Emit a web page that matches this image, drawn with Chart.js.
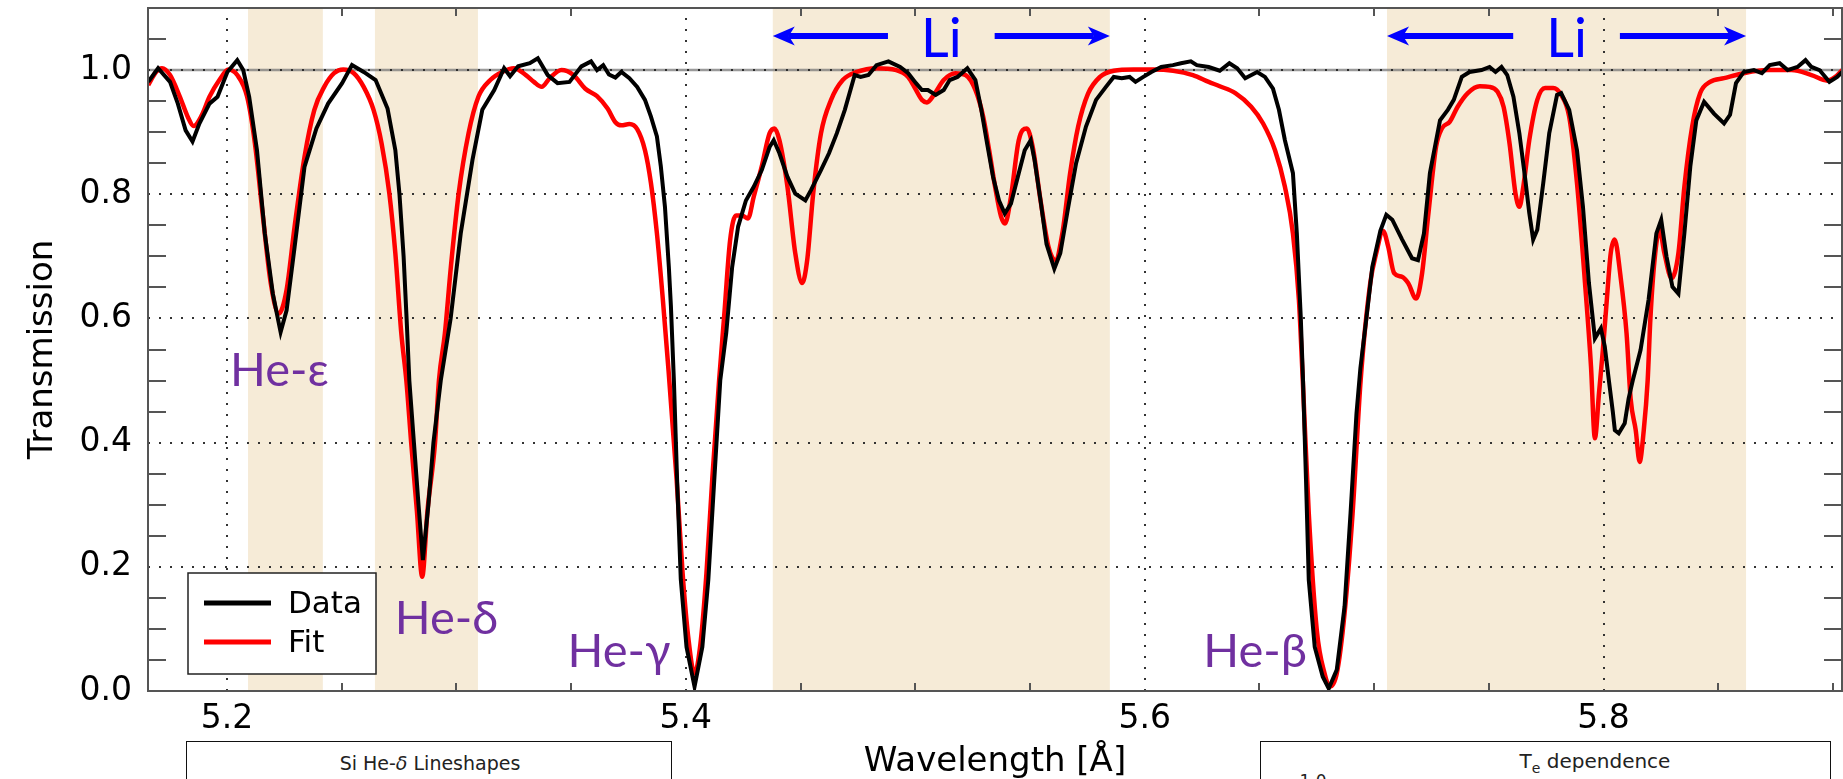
<!DOCTYPE html>
<html>
<head>
<meta charset="utf-8">
<script src="https://cdn.jsdelivr.net/npm/chart.js@4/dist/chart.umd.min.js"></script>
<style>
  html, body { margin: 0; padding: 0; background: #fff; overflow: hidden; width: 1843px; height: 779px; }
  #wrap { position: relative; width: 1843px; height: 779px; }
  #spec { position: absolute; left: 0; top: 0; }
  .panel { position: absolute; top: 741px; height: 60px; box-sizing: border-box; border: 1.5px solid #111; background: #fff;
           font-family: "DejaVu Sans", sans-serif; font-size: 19px; color: #222; }
  .panel span { position: absolute; white-space: nowrap; transform: translateX(-50%); }
</style>
</head>
<body>
<div id="wrap">
  <canvas id="spec" width="1843" height="779"></canvas>
  <div class="panel" style="left:186px;width:486px;">
    <span style="left:243px;top:10px;">Si He-<i>δ</i> Lineshapes</span>
  </div>
  <div class="panel" style="left:1260px;width:571px;">
    <span style="left:334px;top:7px;font-size:20px;">T<sub style="font-size:14px;">e</sub> dependence</span>
    <span style="left:52px;top:29px;font-size:17px;">1.0</span>
  </div>
</div>
<script>
// Measured transmission spectrum (wavelength in Å, transmission)
const dataWavelength = [
  5.1657, 5.1700, 5.1752, 5.1786, 5.1820, 5.1850, 5.1880, 5.1924, 5.1959, 5.2002,
  5.2045, 5.2071, 5.2097, 5.2131, 5.2165, 5.2200, 5.2234, 5.2260, 5.2295, 5.2338,
  5.2390, 5.2441, 5.2502, 5.2545, 5.2596, 5.2648, 5.2700, 5.2734, 5.2752, 5.2770,
  5.2783, 5.2795, 5.2815, 5.2835, 5.2854, 5.2878, 5.2900, 5.2932, 5.2975, 5.3019,
  5.3070, 5.3113, 5.3165, 5.3208, 5.3234, 5.3269, 5.3320, 5.3355, 5.3398, 5.3441,
  5.3493, 5.3545, 5.3587, 5.3613, 5.3640, 5.3665, 5.3693, 5.3719, 5.3754, 5.3788,
  5.3822, 5.3848, 5.3874, 5.3891, 5.3909, 5.3926, 5.3935, 5.3948, 5.3962, 5.3978,
  5.4003, 5.4038, 5.4072, 5.4098, 5.4124, 5.4150, 5.4176, 5.4202, 5.4228, 5.4262,
  5.4296, 5.4331, 5.4365, 5.4383, 5.4408, 5.4443, 5.4477, 5.4521, 5.4546, 5.4589,
  5.4624, 5.4658, 5.4693, 5.4736, 5.4762, 5.4796, 5.4831, 5.4883, 5.4934, 5.4969,
  5.5003, 5.5029, 5.5055, 5.5089, 5.5124, 5.5150, 5.5184, 5.5227, 5.5262, 5.5288,
  5.5313, 5.5339, 5.5365, 5.5390, 5.5417, 5.5451, 5.5477, 5.5503, 5.5520, 5.5546,
  5.5572, 5.5606, 5.5632, 5.5667, 5.5701, 5.5744, 5.5788, 5.5831, 5.5865, 5.5900,
  5.5934, 5.5960, 5.5994, 5.6029, 5.6072, 5.6123, 5.6158, 5.6201, 5.6227, 5.6279,
  5.6327, 5.6369, 5.6403, 5.6438, 5.6490, 5.6524, 5.6559, 5.6585, 5.6611, 5.6646,
  5.6663, 5.6680, 5.6690, 5.6703, 5.6715, 5.6741, 5.6776, 5.6802, 5.6837, 5.6871,
  5.6897, 5.6923, 5.6940, 5.6966, 5.6992, 5.7027, 5.7053, 5.7079, 5.7122, 5.7165,
  5.7191, 5.7217, 5.7243, 5.7287, 5.7321, 5.7347, 5.7382, 5.7416, 5.7468, 5.7503,
  5.7529, 5.7555, 5.7580, 5.7607, 5.7633, 5.7659, 5.7676, 5.7693, 5.7711, 5.7737,
  5.7763, 5.7797, 5.7815, 5.7850, 5.7884, 5.7910, 5.7936, 5.7962, 5.7988, 5.8005,
  5.8023, 5.8040, 5.8049, 5.8066, 5.8092, 5.8109, 5.8127, 5.8161, 5.8196, 5.8230,
  5.8251, 5.8274, 5.8300, 5.8326, 5.8352, 5.8378, 5.8404, 5.8438, 5.8481, 5.8525,
  5.8551, 5.8577, 5.8611, 5.8655, 5.8690, 5.8724, 5.8767, 5.8802, 5.8845, 5.8880,
  5.8906, 5.8941, 5.8984, 5.9018, 5.9040
];
const dataTransmission = [
  0.981, 1.003, 0.981, 0.946, 0.903, 0.885, 0.914, 0.946, 0.957, 0.997,
  1.016, 1.000, 0.957, 0.871, 0.737, 0.640, 0.578, 0.613, 0.715, 0.844,
  0.906, 0.946, 0.979, 1.008, 0.997, 0.984, 0.938, 0.871, 0.800, 0.700,
  0.600, 0.500, 0.400, 0.300, 0.211, 0.300, 0.400, 0.500, 0.600, 0.737,
  0.855, 0.936, 0.968, 1.003, 0.990, 1.006, 1.011, 1.019, 0.992, 0.979,
  0.981, 1.006, 1.014, 1.000, 1.008, 0.993, 0.988, 0.997, 0.987, 0.973,
  0.952, 0.925, 0.893, 0.845, 0.780, 0.683, 0.620, 0.500, 0.340, 0.180,
  0.071, 0.007, 0.071, 0.179, 0.340, 0.500, 0.576, 0.683, 0.748, 0.790,
  0.812, 0.839, 0.876, 0.887, 0.866, 0.828, 0.801, 0.790, 0.807, 0.839,
  0.866, 0.898, 0.936, 0.992, 0.989, 0.992, 1.008, 1.014, 1.005, 0.995,
  0.979, 0.968, 0.968, 0.960, 0.968, 0.984, 0.989, 1.003, 0.984, 0.936,
  0.882, 0.828, 0.790, 0.769, 0.785, 0.834, 0.871, 0.887, 0.855, 0.790,
  0.720, 0.680, 0.705, 0.780, 0.850, 0.909, 0.952, 0.973, 0.989, 0.987,
  0.989, 0.981, 0.989, 0.997, 1.005, 1.008, 1.011, 1.014, 1.008, 1.005,
  0.999, 1.011, 1.003, 0.987, 0.997, 0.989, 0.970, 0.936, 0.887, 0.834,
  0.737, 0.603, 0.500, 0.340, 0.179, 0.071, 0.023, 0.004, 0.034, 0.136,
  0.286, 0.447, 0.520, 0.600, 0.683, 0.741, 0.767, 0.759, 0.727, 0.697,
  0.694, 0.737, 0.834, 0.919, 0.936, 0.952, 0.989, 0.997, 1.000, 1.005,
  0.997, 1.005, 0.992, 0.957, 0.898, 0.823, 0.770, 0.727, 0.743, 0.818,
  0.898, 0.960, 0.963, 0.936, 0.871, 0.780, 0.657, 0.568, 0.584, 0.555,
  0.500, 0.450, 0.420, 0.415, 0.431, 0.471, 0.500, 0.549, 0.630, 0.737,
  0.759, 0.700, 0.651, 0.640, 0.737, 0.845, 0.919, 0.949, 0.930, 0.914,
  0.928, 0.979, 0.997, 1.000, 0.995, 1.008, 1.011, 1.000, 1.005, 1.016,
  1.005, 1.000, 0.981, 0.989, 0.997
];

// Model fit (wavelength in Å, transmission)
const fitWavelength = [
  5.1657, 5.1691, 5.1717, 5.1752, 5.1795, 5.1829, 5.1855, 5.1890, 5.1924, 5.1967,
  5.2007, 5.2045, 5.2088, 5.2122, 5.2157, 5.2191, 5.2226, 5.2260, 5.2295, 5.2338,
  5.2381, 5.2424, 5.2467, 5.2507, 5.2553, 5.2596, 5.2639, 5.2674, 5.2708, 5.2734,
  5.2760, 5.2782, 5.2803, 5.2828, 5.2851, 5.2874, 5.2907, 5.2924, 5.2950, 5.2976,
  5.3010, 5.3053, 5.3096, 5.3148, 5.3200, 5.3251, 5.3303, 5.3338, 5.3372, 5.3407,
  5.3458, 5.3510, 5.3562, 5.3613, 5.3659, 5.3693, 5.3719, 5.3754, 5.3788, 5.3822,
  5.3848, 5.3874, 5.3900, 5.3925, 5.3960, 5.3986, 5.4012, 5.4038, 5.4064, 5.4090,
  5.4115, 5.4145, 5.4167, 5.4193, 5.4219, 5.4245, 5.4271, 5.4296, 5.4331, 5.4365,
  5.4386, 5.4408, 5.4443, 5.4477, 5.4507, 5.4529, 5.4555, 5.4589, 5.4633, 5.4684,
  5.4745, 5.4831, 5.4917, 5.4969, 5.5003, 5.5029, 5.5051, 5.5081, 5.5124, 5.5175,
  5.5219, 5.5262, 5.5296, 5.5322, 5.5348, 5.5374, 5.5391, 5.5417, 5.5451, 5.5486,
  5.5512, 5.5546, 5.5581, 5.5610, 5.5641, 5.5675, 5.5710, 5.5753, 5.5805, 5.5865,
  5.5951, 5.6037, 5.6124, 5.6210, 5.6279, 5.6327, 5.6395, 5.6464, 5.6516, 5.6568,
  5.6611, 5.6646, 5.6672, 5.6689, 5.6715, 5.6750, 5.6784, 5.6807, 5.6837, 5.6871,
  5.6906, 5.6941, 5.6983, 5.7009, 5.7039, 5.7061, 5.7087, 5.7122, 5.7148, 5.7183,
  5.7209, 5.7235, 5.7270, 5.7295, 5.7330, 5.7364, 5.7408, 5.7460, 5.7503, 5.7538,
  5.7564, 5.7590, 5.7616, 5.7633, 5.7650, 5.7676, 5.7711, 5.7745, 5.7780, 5.7815,
  5.7850, 5.7884, 5.7919, 5.7945, 5.7962, 5.7980, 5.7997, 5.8014, 5.8031, 5.8048,
  5.8074, 5.8100, 5.8118, 5.8140, 5.8157, 5.8175, 5.8192, 5.8204, 5.8222, 5.8244,
  5.8265, 5.8296, 5.8326, 5.8352, 5.8386, 5.8421, 5.8464, 5.8525, 5.8611, 5.8715,
  5.8819, 5.8906, 5.8975, 5.9010, 5.9040
];
const fitTransmission = [
  0.976, 0.997, 1.003, 0.992, 0.957, 0.925, 0.910, 0.927, 0.957, 0.984,
  1.001, 0.992, 0.957, 0.882, 0.764, 0.657, 0.608, 0.646, 0.748, 0.860,
  0.936, 0.973, 0.995, 1.001, 0.995, 0.973, 0.936, 0.882, 0.801, 0.705,
  0.576, 0.500, 0.400, 0.290, 0.184, 0.290, 0.400, 0.500, 0.576, 0.683,
  0.801, 0.898, 0.957, 0.984, 0.997, 1.003, 0.992, 0.981, 0.973, 0.987,
  1.000, 0.992, 0.970, 0.958, 0.938, 0.916, 0.911, 0.913, 0.905, 0.871,
  0.818, 0.737, 0.630, 0.515, 0.340, 0.190, 0.082, 0.028, 0.077, 0.190,
  0.340, 0.500, 0.603, 0.726, 0.766, 0.766, 0.761, 0.796, 0.845, 0.898,
  0.906, 0.887, 0.812, 0.705, 0.657, 0.694, 0.801, 0.898, 0.952, 0.984,
  0.997, 1.003, 1.000, 0.989, 0.968, 0.952, 0.948, 0.960, 0.984, 0.995,
  0.992, 0.968, 0.925, 0.871, 0.812, 0.764, 0.753, 0.796, 0.887, 0.906,
  0.876, 0.790, 0.715, 0.694, 0.737, 0.834, 0.909, 0.962, 0.989, 0.999,
  1.001, 1.001, 0.999, 0.992, 0.981, 0.974, 0.963, 0.941, 0.914, 0.871,
  0.812, 0.737, 0.630, 0.500, 0.286, 0.098, 0.028, 0.007, 0.028, 0.125,
  0.286, 0.500, 0.657, 0.705, 0.741, 0.716, 0.673, 0.667, 0.657, 0.632,
  0.673, 0.764, 0.877, 0.906, 0.917, 0.941, 0.963, 0.974, 0.973, 0.965,
  0.941, 0.882, 0.801, 0.780, 0.812, 0.887, 0.952, 0.971, 0.971, 0.960,
  0.925, 0.818, 0.657, 0.523, 0.407, 0.480, 0.550, 0.630, 0.705, 0.727,
  0.667, 0.576, 0.470, 0.420, 0.369, 0.420, 0.500, 0.600, 0.694, 0.743,
  0.705, 0.665, 0.705, 0.812, 0.909, 0.963, 0.981, 0.987, 0.995, 1.000,
  1.000, 0.992, 0.983, 0.989, 1.000
];

// Axis ticks
const xTickValues = [5.2, 5.4, 5.6, 5.8];
const yTickValues = [0.0, 0.2, 0.4, 0.6, 0.8, 1.0];

// Wavelength windows used in the fit (Å)
const fitWindows = [
  [5.2092, 5.2418],
  [5.2645, 5.3094],
  [5.4379, 5.5848],
  [5.7056, 5.8621]
];

// He-like line labels and the Li-like satellite windows
const heLineNames = ['He-ε', 'He-δ', 'He-γ', 'He-β'];
const liWindowIndex = [2, 3];
const liName = 'Li';

// ---------------------------------------------------------------------------
const AXIS_COL = '#555555';
const BAND_COL = 'rgb(246, 235, 215)';
const GRID_COL = 'rgba(40, 40, 40, 0.95)';
const PURPLE = '#7030a0';
const BLUE = '#0000ff';
const X_MIN = 5.1656, X_MAX = 5.9039, Y_MIN = 0, Y_MAX = 1.1;

// label anchor points (wavelength, transmission at cap-height centre)
const heLabelAnchors = [[5.2229, 0.518], [5.2957, 0.118], [5.3709, 0.066], [5.6481, 0.066]];
const LI_TEXT_T = 1.0523, LI_ARROW_T = 1.0548;

function toPoints(xs, ys) { return xs.map((x, i) => ({ x: x, y: ys[i] })); }

function stealthArrow(ctx, x0, x1, y) {
  // shaft from x0 to the tip at x1
  const dir = Math.sign(x1 - x0);
  const L = 22, H = 9.5, notch = 6;
  ctx.beginPath();
  ctx.moveTo(x0, y);
  ctx.lineTo(x1 - dir * (L - notch), y);
  ctx.stroke();
  ctx.beginPath();
  ctx.moveTo(x1, y);
  ctx.lineTo(x1 - dir * L, y - H);
  ctx.lineTo(x1 - dir * (L - notch), y);
  ctx.lineTo(x1 - dir * L, y + H);
  ctx.closePath();
  ctx.fill();
}

const decor = {
  id: 'decor',
  beforeDatasetsDraw(chart) {
    const { ctx, chartArea: a, scales: { x, y } } = chart;
    ctx.save();
    ctx.beginPath();
    ctx.rect(a.left, a.top, a.right - a.left, a.bottom - a.top);
    ctx.clip();

    // fit windows
    ctx.fillStyle = BAND_COL;
    fitWindows.forEach(([lo, hi]) => {
      const p0 = x.getPixelForValue(lo), p1 = x.getPixelForValue(hi);
      ctx.fillRect(p0, a.top, p1 - p0, a.bottom - a.top);
    });

    // unity reference
    const y1 = y.getPixelForValue(1.0);
    ctx.strokeStyle = 'rgba(120,120,120,0.75)';
    ctx.lineWidth = 2.5;
    ctx.beginPath(); ctx.moveTo(a.left, y1); ctx.lineTo(a.right, y1); ctx.stroke();

    // dotted grid
    ctx.strokeStyle = GRID_COL;
    ctx.lineWidth = 2;
    ctx.setLineDash([2, 9]);
    yTickValues.forEach(v => {
      if (v <= Y_MIN) return;
      const py = Math.round(y.getPixelForValue(v));
      ctx.beginPath(); ctx.moveTo(a.left, py); ctx.lineTo(a.right, py); ctx.stroke();
    });
    xTickValues.forEach(v => {
      const px = Math.round(x.getPixelForValue(v));
      ctx.beginPath(); ctx.moveTo(px, a.bottom); ctx.lineTo(px, a.top); ctx.stroke();
    });
    ctx.restore();
  },
  afterDatasetsDraw(chart) {
    const { ctx, chartArea: a, scales: { x, y } } = chart;
    ctx.save();

    // frame
    ctx.strokeStyle = AXIS_COL;
    ctx.lineWidth = 2;
    ctx.strokeRect(a.left, a.top, a.right - a.left, a.bottom - a.top);

    // minor ticks (inside)
    ctx.beginPath();
    for (let k = 100; k <= 120; k++) {
      if (k % 4 === 0) continue;
      const v = k * 0.05;
      if (v <= X_MIN || v >= X_MAX) continue;
      const px = Math.round(x.getPixelForValue(v));
      ctx.moveTo(px, a.bottom); ctx.lineTo(px, a.bottom - 8);
      ctx.moveTo(px, a.top); ctx.lineTo(px, a.top + 8);
    }
    for (let k = 1; k < 22; k++) {
      if (k % 4 === 0) continue;
      const py = Math.round(y.getPixelForValue(k * 0.05));
      ctx.moveTo(a.left, py); ctx.lineTo(a.left + 18, py);
      ctx.moveTo(a.right, py); ctx.lineTo(a.right - 18, py);
    }
    ctx.stroke();

    // legend
    const lx = 188, ly = 573, lw = 188, lh = 101;
    ctx.fillStyle = '#fff';
    ctx.fillRect(lx, ly, lw, lh);
    ctx.strokeStyle = '#222';
    ctx.lineWidth = 1.5;
    ctx.strokeRect(lx, ly, lw, lh);
    ctx.font = '31px "DejaVu Sans"';
    ctx.textAlign = 'left';
    ctx.textBaseline = 'middle';
    chart.data.datasets.forEach((ds, i) => {
      const ry = ly + 30 + i * 39;
      ctx.strokeStyle = ds.borderColor;
      ctx.lineWidth = 5;
      ctx.beginPath(); ctx.moveTo(lx + 16, ry); ctx.lineTo(lx + 83, ry); ctx.stroke();
      ctx.fillStyle = '#000';
      ctx.fillText(ds.label, lx + 100, ry + 2);
    });

    // He line labels
    ctx.fillStyle = PURPLE;
    ctx.font = '47px Lato, "Noto Sans", sans-serif';
    ctx.textAlign = 'center';
    ctx.textBaseline = 'alphabetic';
    const capH = ctx.measureText('H').actualBoundingBoxAscent;
    heLineNames.forEach((name, i) => {
      const [lam, tr] = heLabelAnchors[i];
      ctx.fillText(name, x.getPixelForValue(lam), y.getPixelForValue(tr) + capH / 2);
    });

    // Li windows: label with double arrow spanning the window
    ctx.fillStyle = BLUE;
    ctx.strokeStyle = BLUE;
    ctx.font = '54px Lato, "Noto Sans", sans-serif';
    const liCap = ctx.measureText('L').actualBoundingBoxAscent;
    const liW = ctx.measureText(liName).width;
    liWindowIndex.forEach(idx => {
      const [lo, hi] = fitWindows[idx];
      const p0 = x.getPixelForValue(lo), p1 = x.getPixelForValue(hi);
      const cx = (p0 + p1) / 2;
      ctx.fillText(liName, cx, y.getPixelForValue(LI_TEXT_T) + liCap / 2);
      const ay = y.getPixelForValue(LI_ARROW_T);
      ctx.lineWidth = 6;
      stealthArrow(ctx, cx - liW / 2 - 33, p0, ay);
      stealthArrow(ctx, cx + liW / 2 + 33, p1, ay);
    });
    ctx.restore();
  }
};

const zeroPad = s => { s.paddingTop = 0; s.paddingBottom = 0; s.paddingLeft = 0; s.paddingRight = 0; };

new Chart(document.getElementById('spec'), {
  type: 'line',
  data: {
    datasets: [
      {
        label: 'Data',
        data: toPoints(dataWavelength, dataTransmission),
        borderColor: '#000000',
        borderWidth: 4,
        pointRadius: 0,
        tension: 0,
        fill: false
      },
      {
        label: 'Fit',
        data: toPoints(fitWavelength, fitTransmission),
        borderColor: '#ff0000',
        borderWidth: 4.5,
        pointRadius: 0,
        cubicInterpolationMode: 'monotone',
        fill: false
      }
    ]
  },
  options: {
    responsive: false,
    animation: false,
    devicePixelRatio: 1,
    layout: { padding: { left: 0, top: 8, right: 1, bottom: 0 } },
    plugins: { legend: { display: false }, tooltip: { enabled: false } },
    scales: {
      x: {
        type: 'linear',
        min: X_MIN,
        max: X_MAX,
        afterBuildTicks: s => { s.ticks = xTickValues.map(v => ({ value: v })); },
        afterFit: s => { s.height = 88; zeroPad(s); },
        grid: { display: false, drawTicks: false },
        border: { display: false },
        ticks: {
          autoSkip: false, maxRotation: 0, padding: 9, color: '#000',
          font: { family: 'DejaVu Sans', size: 33 },
          callback: v => Number(v).toFixed(1)
        },
        title: {
          display: true, text: 'Wavelength [Å]', color: '#000',
          font: { family: 'DejaVu Sans', size: 34, lineHeight: 1 },
          padding: { top: 0, bottom: 0 }
        }
      },
      y: {
        type: 'linear',
        min: Y_MIN,
        max: Y_MAX,
        afterBuildTicks: s => { s.ticks = yTickValues.map(v => ({ value: v })); },
        afterFit: s => { s.width = 148; zeroPad(s); },
        grid: { display: false, drawTicks: false },
        border: { display: false },
        ticks: {
          padding: 16, color: '#000',
          font: { family: 'DejaVu Sans', size: 33 },
          callback: v => Number(v).toFixed(1)
        },
        title: {
          display: true, text: 'Transmission', color: '#000',
          font: { family: 'DejaVu Sans', size: 34, lineHeight: 1 },
          padding: { top: 26, bottom: 0 }
        }
      }
    }
  },
  plugins: [decor]
});
</script>
</body>
</html>
